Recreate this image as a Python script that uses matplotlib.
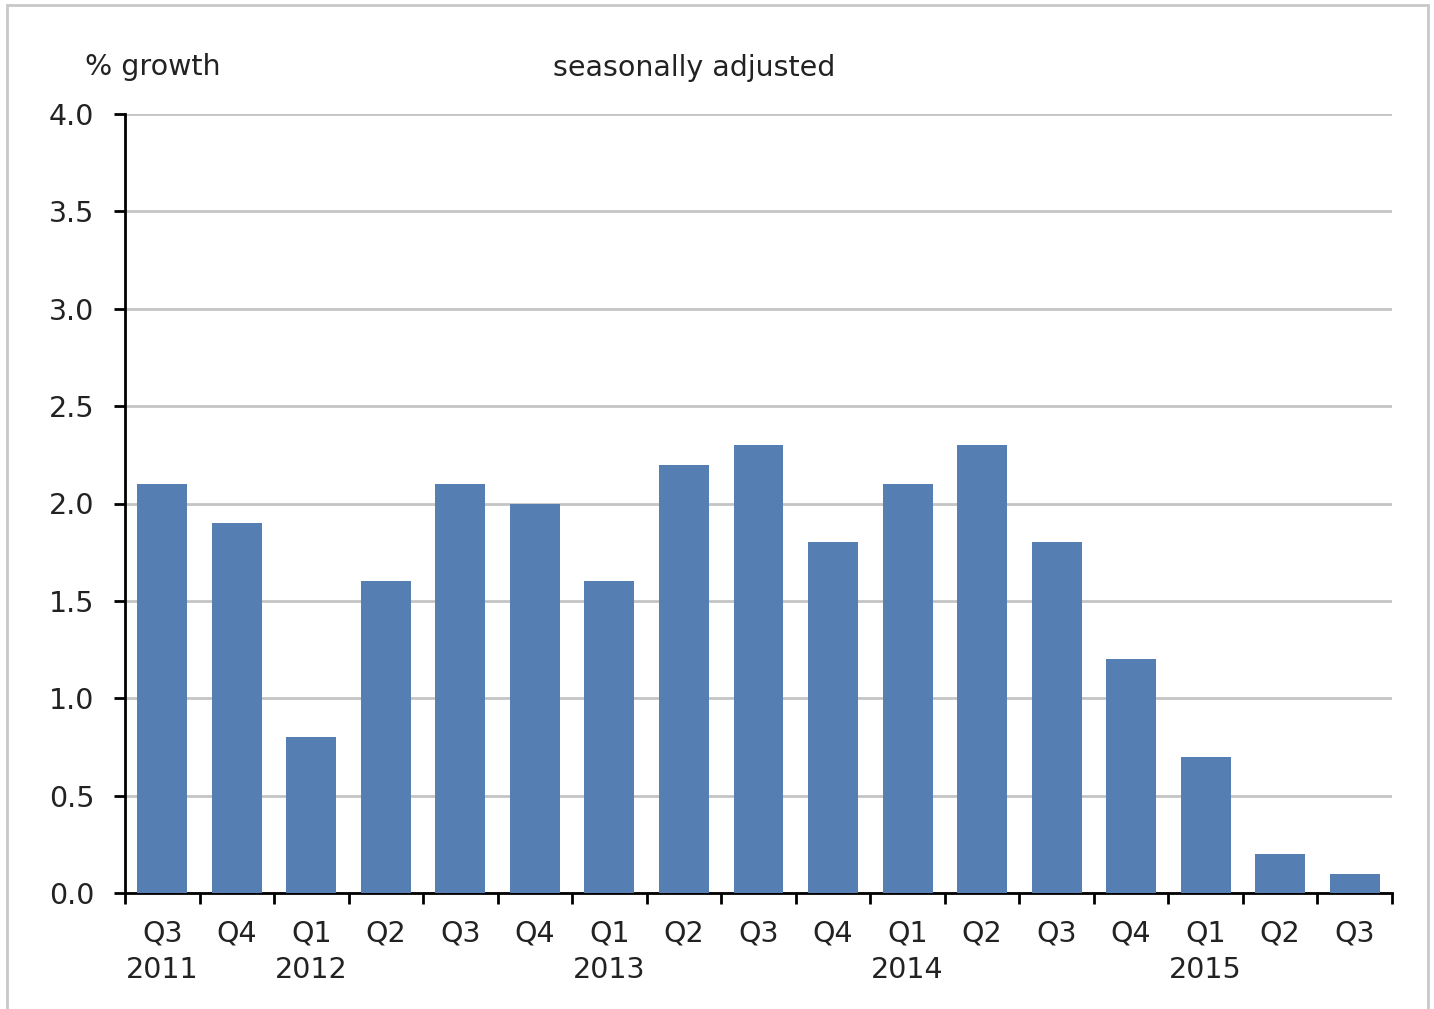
import matplotlib.pyplot as plt
import numpy as np
from matplotlib.patches import Rectangle

# DATA
quarters = ['Q3', 'Q4', 'Q1', 'Q2', 'Q3', 'Q4', 'Q1', 'Q2', 'Q3',
            'Q4', 'Q1', 'Q2', 'Q3', 'Q4', 'Q1', 'Q2', 'Q3']
years = ['2011', '', '2012', '', '', '', '2013', '', '',
         '', '2014', '', '', '', '2015', '', '']
growth = [2.1, 1.9, 0.8, 1.6, 2.1, 2.0, 1.6, 2.2, 2.3,
          1.8, 2.1, 2.3, 1.8, 1.2, 0.7, 0.2, 0.1]
yticks = [0.0, 0.5, 1.0, 1.5, 2.0, 2.5, 3.0, 3.5, 4.0]

# PLOT
fig = plt.figure(figsize=(14.34, 10.09), dpi=100)
ax = fig.add_axes([125 / 1434, 1 - 893 / 1009, (1392 - 125) / 1434, (893 - 114) / 1009])

x = np.arange(len(growth))
ax.bar(x, growth, width=0.67, color='#557eb3', zorder=3)

# DESIGN
ax.set_xlim(-0.5, len(growth) - 0.5)
ax.set_ylim(0, 4.0)
ax.set_yticks(yticks)
ax.set_yticklabels([f'{v:.1f}' for v in yticks], fontsize=20.5, color='#222222')
ax.yaxis.grid(True, color='#c4c4c4', linewidth=2, zorder=0)
ax.set_axisbelow(True)

ax.set_xticks(np.arange(len(growth) + 1) - 0.5)
ax.set_xticklabels([])
ax.set_xticks(x, minor=True)
labels = [q + ('\n' + y if y else '') for q, y in zip(quarters, years)]
ax.set_xticklabels(labels, minor=True, fontsize=20.5, color='#222222', linespacing=1.4)
ax.tick_params(axis='x', which='minor', length=0, pad=19)
ax.tick_params(axis='x', which='major', length=8, width=2, direction='out')
ax.tick_params(axis='y', length=8, width=2, direction='out', pad=14)

for side in ['top', 'right']:
    ax.spines[side].set_visible(False)
for side in ['left', 'bottom']:
    ax.spines[side].set_linewidth(2)
    ax.spines[side].set_color('black')

# ANNOTATIONS
fig.text(85 / 1434, 1 - 67 / 1009, '% growth', fontsize=20.5, ha='left', va='center', color='#222222')
fig.text(694 / 1434, 1 - 68 / 1009, 'seasonally adjusted', fontsize=20.5, ha='center', va='center', color='#222222')

# BORDER
fig.patches.append(Rectangle((7 / 1434, -0.01), (1428 - 7) / 1434, 1.01 - 5 / 1009,
                             transform=fig.transFigure, fill=False,
                             edgecolor='#c8c8c8', linewidth=2))

fig.savefig('out.png', dpi=100)
